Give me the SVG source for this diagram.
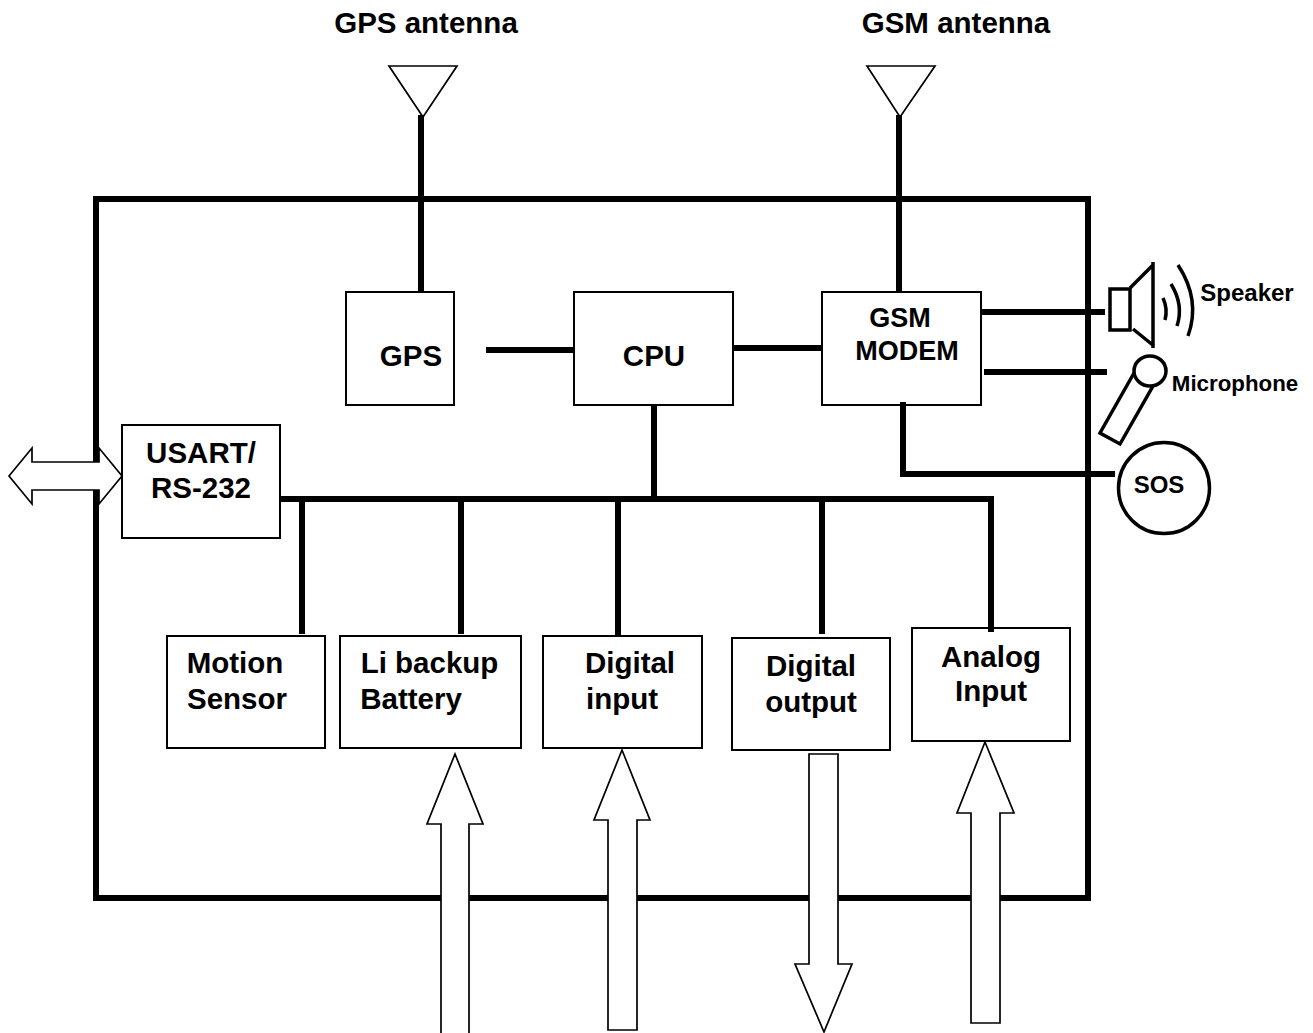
<svg xmlns="http://www.w3.org/2000/svg" width="1313" height="1033" viewBox="0 0 1313 1033">
<style>
text{font-family:"Liberation Sans",Arial,sans-serif;font-weight:bold;fill:#000;text-anchor:middle}
.b{fill:#fff;stroke:#000;stroke-width:2}
.a{fill:#fff;stroke:#000;stroke-width:1.7;stroke-linejoin:miter}
.w{fill:none;stroke:#000;stroke-width:6}
.s{fill:none;stroke:#000;stroke-width:3.5}
.t29{font-size:29.5px}.t27{font-size:27px}.t22{font-size:22.3px}.t24{font-size:24px}
</style>
<rect width="1313" height="1033" fill="#fff"/>
<g id="enclosure"><rect x="96" y="199" width="992" height="699" fill="none" stroke="#000" stroke-width="6"/></g>
<g id="gps-antenna"><polygon class="a" points="389,66 457,66 423,117"/><text class="t29" x="426" y="32.5">GPS antenna</text></g>
<g id="gsm-antenna"><polygon class="a" points="867,66 935,66 900,117"/><text class="t29" x="956" y="32.5">GSM antenna</text></g>
<g id="gps"><rect class="b" x="346" y="292" width="108" height="113"/><text class="t29" x="411" y="366">GPS</text></g>
<g id="cpu"><rect class="b" x="574" y="292" width="159" height="113"/><text class="t29" x="654" y="366">CPU</text></g>
<g id="gsm-modem"><rect class="b" x="822" y="292" width="159" height="113"/><text class="t27" x="900" y="327">GSM</text><text class="t27" x="907" y="359.500">MODEM</text></g>
<g id="usart"><rect class="b" x="122" y="425" width="158" height="113"/><text class="t29" x="201" y="462.500">USART/</text><text class="t29" x="201" y="497.500">RS-232</text></g>
<g id="usart-arrow"><polygon class="a" points="9,476 32,448 32,462 99,462 99,448 122,476 99,504 99,490 32,490 32,504"/></g>
<g id="motion-sensor"><rect class="b" x="167" y="636" width="158" height="112"/><text class="t29" x="235" y="673">Motion</text><text class="t29" x="237" y="709">Sensor</text></g>
<g id="li-battery"><rect class="b" x="340" y="636" width="181" height="112"/><text class="t29" x="429.500" y="673">Li backup</text><text class="t29" x="411" y="709">Battery</text></g>
<g id="digital-input"><rect class="b" x="543" y="636" width="159" height="112"/><text class="t29" x="630" y="673">Digital</text><text class="t29" x="622" y="709">input</text></g>
<g id="digital-output"><rect class="b" x="732" y="638" width="158" height="112"/><text class="t29" x="811" y="676">Digital</text><text class="t29" x="811" y="712">output</text></g>
<g id="analog-input"><rect class="b" x="912" y="628" width="158" height="113"/><text class="t29" x="991" y="667">Analog</text><text class="t29" x="991" y="701">Input</text></g>
<g id="connectors">
<path class="w" d="M421 115V292M899 115V292M486 350H574M733 348H822M654 405V496M280 499H994M302 499V634M461 499V634M618 499V636M822 499V634M991 496V632M981 312H1105M984 372H1107M903 402V474H1115"/>
</g>
<g id="arrow-battery"><polygon class="a" points="455,754 483,824 469,824 469,1040 441,1040 441,824 427,824"/></g>
<g id="arrow-digital-input"><polygon class="a" points="622,750 650,820 637,820 637,1030 608,1030 608,820 594,820"/></g>
<g id="arrow-digital-output"><polygon class="a" points="809,754 838,754 838,964 852,964 824,1032 795,964 809,964"/></g>
<g id="arrow-analog-input"><polygon class="a" points="985,742 1014,813 1000,813 1000,1023 971,1023 971,813 957,813"/></g>
<g id="speaker">
<rect class="s" x="1110" y="289" width="20" height="41"/>
<path class="s" d="M1130 288L1153 265M1153 262V348M1133 329L1154 346"/>
<path class="s" d="M1163 298Q1168 309 1165 320M1171 284Q1184 305 1177 326M1178 265Q1201 300 1188 336"/>
<text class="t24" x="1247" y="300.500">Speaker</text>
</g>
<g id="microphone">
<polygon class="s" points="1134,373 1100,433 1120,444 1153,386"/>
<ellipse class="s" cx="1150" cy="371" rx="16" ry="15" style="fill:#fff"/>
<text class="t22" x="1235" y="390.500">Microphone</text>
</g>
<g id="sos"><circle cx="1164" cy="488" r="45.500" fill="#fff" stroke="#000" stroke-width="3.500"/><text class="t24" x="1159" y="493">SOS</text></g>
</svg>
